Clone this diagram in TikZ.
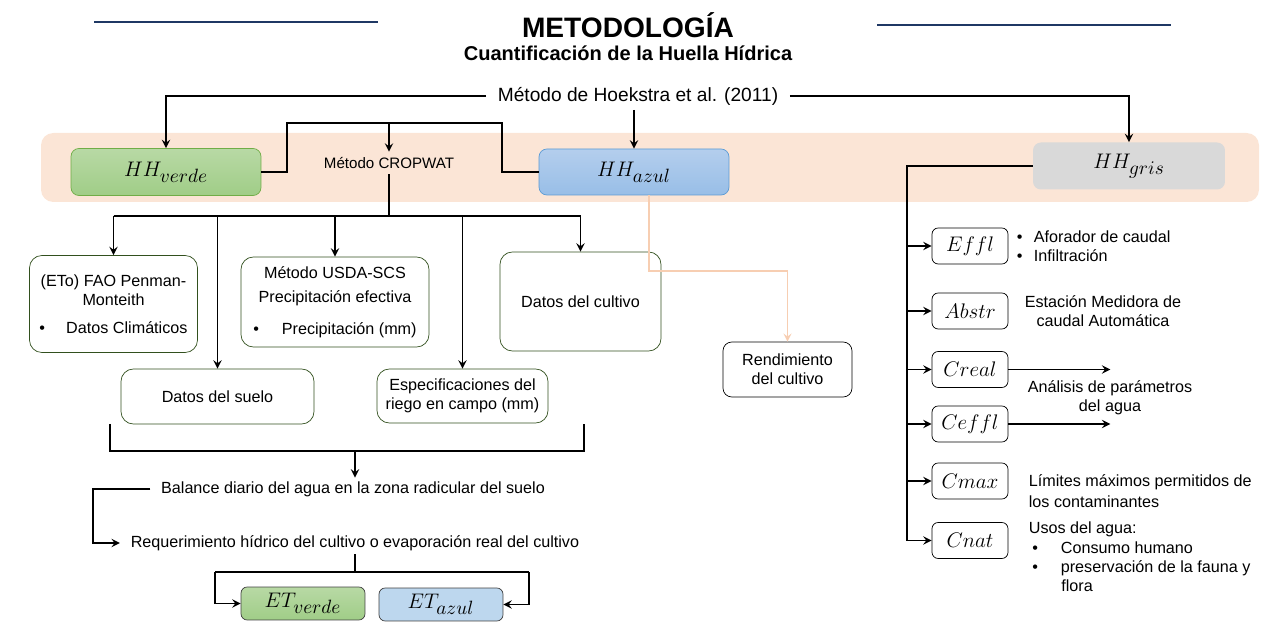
\documentclass[tikz,border=0pt]{standalone}
\usepackage{fontspec}
\setmainfont{Liberation Sans}
\usetikzlibrary{arrows}
\definecolor{peach}{RGB}{251,229,214}
\definecolor{peachline}{RGB}{247,206,178}
\definecolor{verdeline}{RGB}{112,173,71}
\definecolor{verdetop}{RGB}{184,217,165}
\definecolor{verdebot}{RGB}{160,205,135}
\definecolor{azulline}{RGB}{91,155,213}
\definecolor{azultop}{RGB}{180,206,237}
\definecolor{azulbot}{RGB}{152,190,231}
\definecolor{gris}{RGB}{217,217,217}
\definecolor{etazul}{RGB}{189,215,238}
\definecolor{darkgreen}{RGB}{50,80,30}
\definecolor{navy}{RGB}{31,56,100}
\newcommand{\subtxt}[1]{\mbox{\fontsize{10.5}{12}\selectfont$#1$}}
\tikzstyle{txt} = [font=\fontsize{9.2}{11}\selectfont, inner sep=2pt]
\tikzstyle{hhverde} = [rectangle, rounded corners=4.5pt, minimum width=3.8cm, minimum height=0.94cm, draw=verdeline, top color=verdetop, bottom color=verdebot, font=\fontsize{12.5}{14}\selectfont]
\tikzstyle{hhazul} = [rectangle, rounded corners=4.5pt, minimum width=3.8cm, minimum height=0.92cm, draw=azulline, top color=azultop, bottom color=azulbot, font=\fontsize{12.5}{14}\selectfont]
\tikzstyle{hhgris} = [rectangle, rounded corners=4.5pt, minimum width=3.84cm, minimum height=0.94cm, draw=none, fill=gris, font=\fontsize{12.5}{14}\selectfont]
\tikzstyle{datos} = [rectangle, rounded corners=7pt, draw=darkgreen, fill=white, align=center, text centered, font=\fontsize{9.2}{11}\selectfont]
\tikzstyle{param} = [rectangle, rounded corners=3.5pt, draw=black, fill=white, minimum width=1.52cm, minimum height=0.72cm, font=\fontsize{11.5}{13}\selectfont]
\tikzstyle{etbox} = [rectangle, rounded corners=3.5pt, draw=black!75, minimum width=2.48cm, minimum height=0.66cm, font=\fontsize{12.5}{14}\selectfont]
\tikzstyle{arrow} = [line width=1.1pt,->,>=stealth]
\tikzstyle{line} = [line width=1.1pt]
\tikzstyle{peacharrow} = [line width=1pt, draw=peachline, ->, >=stealth]
\tikzstyle{deco} = [line width=1.2pt, draw=navy]

\begin{document}
\begin{tikzpicture}[x=0.02cm, y=-0.02cm]
		\useasboundingbox (0,0) rectangle (1282,624);
		% titulo
		\draw [deco] (94,22) -- (378,22);
		\draw [deco] (877,25) -- (1171,25);
		\node (title) at (628,25) {\fontsize{16}{19}\selectfont\bfseries METODOLOGÍA};
		\node (subtitle) at (628,53) {\fontsize{11.4}{14}\selectfont\bfseries Cuantificación de la Huella Hídrica};
		\node (hoek) [font=\fontsize{10.9}{13}\selectfont, inner xsep=6.5pt, inner ysep=2.5pt] at (638,96) {Método de Hoekstra et al. (2011)};
		
		% franja
		\fill [peach, rounded corners=7pt] (41,133) rectangle (1259,202);
		\node (hhv) [hhverde] at (166,172) {$HH_{\subtxt{verde}}$};
		\node (hha) [hhazul] at (634,172) {$HH_{\subtxt{azul}}$};
		\node (hhg) [hhgris] at (1129,166) {$HH_{\subtxt{gris}}$};
		\node (crop) [txt, font=\fontsize{8.6}{10}\selectfont, inner sep=3pt] at (389,163) {Método CROPWAT};
		
		\draw [arrow] (hoek.west) -| (hhv.north);
		\draw [arrow] (hoek.east) -| (hhg.north);
		\draw [arrow] (hoek.south -| hha.north) -- (hha.north);
		\coordinate (cwl) at (287,123);
		\coordinate (cwr) at (502,123);
		\draw [line] (hhv.east) -| (cwl) -- (cwr) |- (hha.west);
		\draw [arrow] (crop.north |- cwl) -- (crop.north);
		
		% CROPWAT
		\node (eto) [datos, minimum width=3.36cm, minimum height=1.94cm] at (113.5,304) {(ETo) FAO Penman-\\Monteith\\[5pt]\textbullet\hspace{12pt}Datos Climáticos};
		\node (suelo) [datos, minimum width=3.86cm, minimum height=1.1cm] at (217.5,396.5) {Datos del suelo};
		\node (usda) [datos, minimum width=3.76cm, minimum height=1.8cm] at (335,302) {Método USDA-SCS\\[3pt]Precipitación efectiva\\[7pt]\textbullet\hspace{13pt}Precipitación (mm)};
		\node (espec) [datos, minimum width=3.42cm, minimum height=1.08cm] at (462.5,396) {Especificaciones del\\riego en campo (mm)};
		\node (cultivo) [datos, minimum width=3.22cm, minimum height=1.98cm] at (580.5,301.5) {Datos del cultivo};
		
		\coordinate (bus) at (389,216);
		\draw [line] (crop.south) -- (bus);
		\draw [line] (eto.north |- bus) -- (cultivo.north |- bus);
		\draw [arrow] (eto.north |- bus) -- (eto.north);
		\draw [arrow] (suelo.north |- bus) -- (suelo.north);
		\draw [arrow] (usda.north |- bus) -- (usda.north);
		\draw [arrow] (espec.north |- bus) -- (espec.north);
		\draw [arrow] (cultivo.north |- bus) -- (cultivo.north);
		
		% balance
		\coordinate (brl) at (110,424);
		\coordinate (brr) at (584,424);
		\coordinate (brb) at (355,451);
		\draw [line] (brl) |- (brb) -| (brr);
		\node (bal) [txt, inner xsep=6pt] at (353,489) {Balance diario del agua en la zona radicular del suelo};
		\node (req) [txt, inner xsep=6pt] at (355,543) {Requerimiento hídrico del cultivo o evaporación real del cultivo};
		\draw [arrow] (brb) -- (brb |- bal.north);
		\draw [arrow] (bal.west) -- ++(-57,0) |- (req.west);
		
		\node (etv) [etbox, top color=verdetop, bottom color=verdebot] at (303,603.5) {$ET_{\subtxt{verde}}$};
		\node (eta) [etbox, fill=etazul] at (441,604.5) {$ET_{\subtxt{azul}}$};
		\coordinate (etl) at (215,572);
		\coordinate (etr) at (529,572);
		\draw [line] (req.south) -- (req.south |- etl);
		\draw [line] (etl) -- (etr);
		\draw [arrow] (etl) |- (etv.west);
		\draw [arrow] (etr) |- (eta.east);
		
		% rendimiento
		\node (rend) [datos, draw=black, minimum width=2.58cm, minimum height=1.1cm, rounded corners=5pt] at (787.5,369.5) {Rendimiento\\del cultivo};
		\coordinate (pk) at (649,271);
		\draw [peacharrow] (hha.south -| pk) -- (pk) -| (rend.north);
		
		% huella gris
		\node (effl) [param] at (970,246) {$E{f}{f}l$};
		\node (abstr) [param] at (970,311) {$Abstr$};
		\node (creal) [param] at (970,369.5) {$Creal$};
		\node (ceffl) [param] at (970,424) {$Ce{f}{f}l$};
		\node (cmax) [param] at (970,481) {$Cmax$};
		\node (cnat) [param] at (970,540.5) {$Cnat$};
		
		\coordinate (gbot) at (907,541);
		\draw [line width=1.6pt] (hhg.west) -| (gbot);
		\draw [arrow] (effl.west -| gbot) -- (effl.west);
		\draw [arrow] (abstr.west -| gbot) -- (abstr.west);
		\draw [arrow] (creal.west -| gbot) -- (creal.west);
		\draw [arrow] (ceffl.west -| gbot) -- (ceffl.west);
		\draw [arrow] (cmax.west -| gbot) -- (cmax.west);
		\draw [arrow] (cnat.west -| gbot) -- (cnat.west);
		\draw [arrow] (creal.east) -- ++(102,0);
		\draw [arrow] (ceffl.east) -- ++(102,0);
		
		\node (efflt) [txt, anchor=west, align=left] at (1013,246) {\textbullet\hspace{6.5pt}Aforador de caudal\\\textbullet\hspace{6.5pt}Infiltración};
		\node (abstrt) [txt, align=center] at (1103,311) {Estación Medidora de\\caudal Automática};
		\node (analt) [txt, align=center] at (1110,397.5) {Análisis de parámetros\\del agua};
		\node (cmaxt) [txt, anchor=west, align=left] at (1025,491.5) {Límites máximos permitidos de\\[1pt]los contaminantes};
		\node (cnatt) [txt, anchor=west, align=left] at (1025,557) {Usos del agua:\\\hspace*{2pt}\textbullet\hspace{13pt}Consumo humano\\\hspace*{2pt}\textbullet\hspace{13pt}preservación de la fauna y\\\hspace*{18.5pt}flora};
		\end{tikzpicture}
\end{document}
